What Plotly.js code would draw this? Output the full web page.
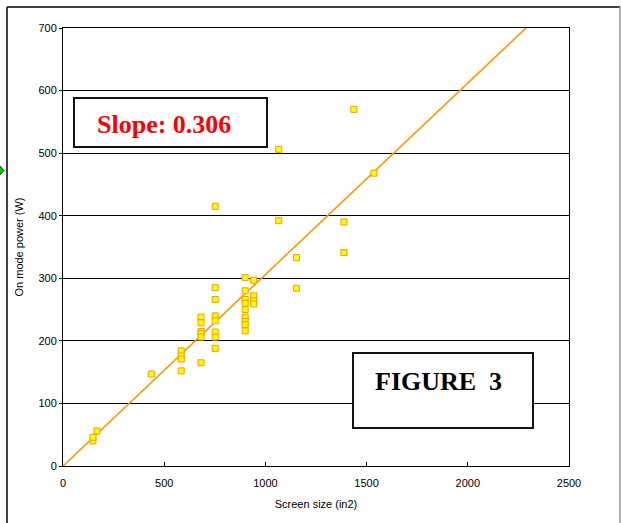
<!DOCTYPE html>
<html>
<head>
<meta charset="utf-8">
<script src="https://cdn.plot.ly/plotly-3.0.1.min.js"></script>
<style>html,body{margin:0;padding:0;background:#fff;}#chart{width:621px;height:523px;}</style>
</head>
<body>
<div id="chart"></div>
<script>
// Data
const screenSize = [148,148,168,436,584,584,584,584,682,682,682,682,682,682,752,752,752,752,752,752,752,752,900,900,900,900,900,900,900,900,900,942,942,942,942,1066,1066,1153,1153,1388,1388,1437,1536];
const power      = [40,46,56,147,184,176,171,152,238,229,215,212,206,165,415,285,266,240,232,214,206,188,301,280,266,260,250,238,231,226,216,297,272,264,259,506,392,333,284,390,341,570,468];
const slope = 0.306;
const trendX = [0, 2290];
const trendY = trendX.map(v => v * slope);
const xTicks = [0, 500, 1000, 1500, 2000, 2500];
const yTicks = [0, 100, 200, 300, 400, 500, 600, 700];
const slopeLabel = "Slope: " + slope.toFixed(3);
const figureLabel = "FIGURE&nbsp;&nbsp;3";

// pixel -> paper helpers (plot area 63..569 x 28..466)
const L = 63, R = 569, T = 28, B = 466;
const px = x => (x - L) / (R - L);
const py = y => (B - y) / (B - T);

const traces = [
  {
    x: trendX, y: trendY, mode: 'lines', type: 'scatter',
    line: {color: '#FF9900', width: 1.6}, hoverinfo: 'skip'
  },
  {
    x: screenSize, y: power, mode: 'markers', type: 'scatter',
    marker: {symbol: 'square', size: 6, color: '#FFFF00', line: {color: '#FF9900', width: 1}}
  }
];

const layout = {
  width: 621, height: 523,
  margin: {l: L, r: 621 - R, t: T, b: 523 - B},
  paper_bgcolor: '#ffffff', plot_bgcolor: '#ffffff',
  showlegend: false,
  font: {family: 'Liberation Sans, Arial, sans-serif', size: 11, color: '#000'},
  xaxis: {
    range: [0, 2500], tickvals: xTicks, ticktext: xTicks.map(String),
    showgrid: false, zeroline: false,
    showline: true, linecolor: '#000', linewidth: 1, mirror: true,
    ticks: 'inside', ticklen: 4, tickcolor: '#000',
    ticklabelstandoff: 7,
    tickfont: {size: 11, color: '#000'},
    title: {text: 'Screen size (in2)', font: {size: 11, color: '#000'}, standoff: 12}
  },
  yaxis: {
    range: [0, 700], tickvals: yTicks, ticktext: yTicks.map(String),
    showgrid: true, gridcolor: '#000', gridwidth: 1, zeroline: false,
    showline: true, linecolor: '#000', linewidth: 1, mirror: true,
    ticks: 'outside', ticklen: 3, tickcolor: '#000',
    tickfont: {size: 11, color: '#000'},
    title: {text: 'On mode power (W)', font: {size: 11, color: '#000'}, standoff: 12}
  },
  shapes: [
    // outer chart border
    {type: 'line', xref: 'paper', yref: 'paper', x0: px(7), x1: px(620), y0: py(7), y1: py(7), line: {color: '#000', width: 1.5}},
    {type: 'line', xref: 'paper', yref: 'paper', x0: px(7), x1: px(7), y0: py(7), y1: py(530), line: {color: '#000', width: 1.5}},
    {type: 'line', xref: 'paper', yref: 'paper', x0: px(620), x1: px(620), y0: py(7), y1: py(530), line: {color: '#999', width: 1.5}},
    // slope box
    {type: 'rect', xref: 'paper', yref: 'paper', x0: px(74), x1: px(267), y0: py(98), y1: py(147), fillcolor: '#fff', line: {color: '#111', width: 2}, layer: 'above'},
    // figure box
    {type: 'rect', xref: 'paper', yref: 'paper', x0: px(353), x1: px(533), y0: py(353), y1: py(428), fillcolor: '#fff', line: {color: '#111', width: 2}, layer: 'above'},
    // green marker at left edge
    {type: 'path', xref: 'paper', yref: 'paper',
     path: 'M ' + px(-1) + ' ' + py(165) + ' L ' + px(4) + ' ' + py(170.5) + ' L ' + px(-1) + ' ' + py(176) + ' Z',
     fillcolor: '#00cc00', line: {color: '#004400', width: 1}}
  ],
  annotations: [
    {xref: 'paper', yref: 'paper', x: px(163.5), y: py(124), xanchor: 'center', yanchor: 'middle',
     text: '<b>' + slopeLabel + '</b>', showarrow: false,
     font: {family: 'Liberation Serif, Times New Roman, serif', size: 26, color: '#FF0000'}},
    {xref: 'paper', yref: 'paper', x: px(438), y: py(381), xanchor: 'center', yanchor: 'middle',
     text: '<b>' + figureLabel + '</b>', showarrow: false,
     font: {family: 'Liberation Serif, Times New Roman, serif', size: 26, color: '#000'}}
  ]
};

Plotly.newPlot('chart', traces, layout, {displayModeBar: false, staticPlot: true});
</script>
</body>
</html>
